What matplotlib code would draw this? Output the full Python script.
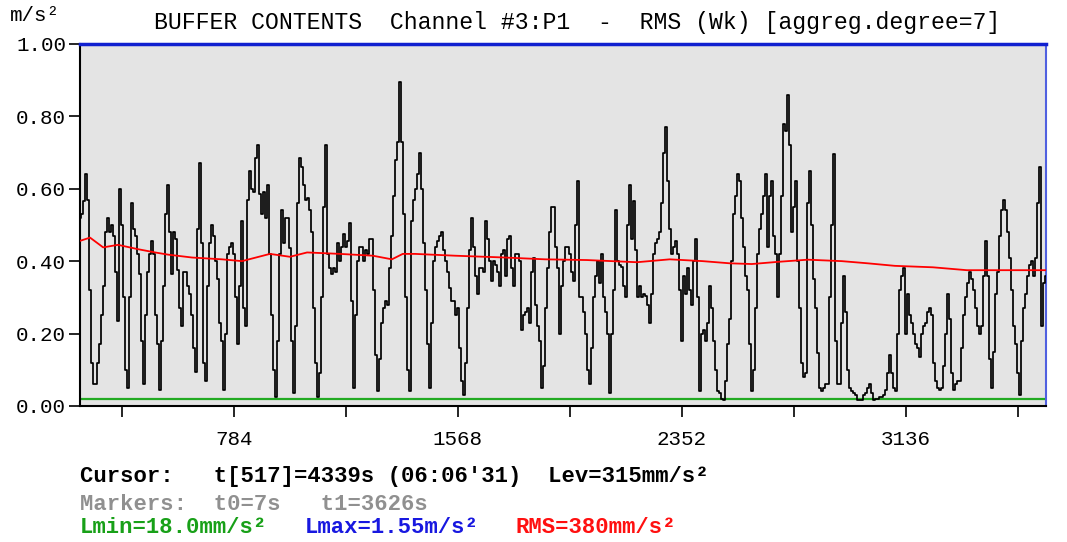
import numpy as np
import matplotlib
matplotlib.use("Agg")
import matplotlib.pyplot as plt
from matplotlib.ticker import FixedLocator, FuncFormatter

# --- Data ---
t_start = 245        # s, first sample shown
t_step = 7           # s per aggregated sample (aggreg.degree=7)
t_end = 3626         # s, right edge of the buffer window

# aggregated RMS level (m/s^2), one value per sample
level = [
    0.52, 0.53, 0.565, 0.64, 0.57, 0.32, 0.12, 0.06, 0.06, 0.12, 0.17,
    0.25, 0.33, 0.48, 0.52, 0.48, 0.50, 0.47, 0.37, 0.235, 0.60, 0.50,
    0.30, 0.10, 0.05, 0.30, 0.56, 0.49, 0.47, 0.42, 0.365, 0.18, 0.06,
    0.25, 0.37, 0.42, 0.455, 0.42, 0.25, 0.17, 0.045, 0.18, 0.33, 0.53,
    0.61, 0.48, 0.365, 0.48, 0.46, 0.375, 0.27, 0.22, 0.37, 0.37, 0.33,
    0.31, 0.25, 0.16, 0.095, 0.49, 0.67, 0.45, 0.12, 0.07, 0.33, 0.45,
    0.50, 0.47, 0.40, 0.35, 0.23, 0.18, 0.045, 0.20, 0.42, 0.44, 0.45,
    0.42, 0.30, 0.17, 0.33, 0.51, 0.27, 0.22, 0.57, 0.65, 0.60, 0.59,
    0.685, 0.72, 0.585, 0.53, 0.59, 0.52, 0.61, 0.42, 0.25, 0.10, 0.025,
    0.18, 0.42, 0.54, 0.45, 0.52, 0.52, 0.435, 0.18, 0.035, 0.22, 0.56,
    0.685, 0.66, 0.61, 0.57, 0.575, 0.54, 0.48, 0.27, 0.12, 0.025, 0.09,
    0.30, 0.55, 0.72, 0.42, 0.38, 0.365, 0.38, 0.37, 0.45, 0.40, 0.44,
    0.475, 0.44, 0.455, 0.505, 0.29, 0.05, 0.25, 0.40, 0.44, 0.44, 0.40,
    0.43, 0.42, 0.46, 0.46, 0.32, 0.14, 0.04, 0.13, 0.23, 0.27, 0.29,
    0.28, 0.38, 0.47, 0.58, 0.68, 0.73, 0.895, 0.73, 0.53, 0.30, 0.10,
    0.04, 0.51, 0.57, 0.60, 0.64, 0.70, 0.60, 0.45, 0.32, 0.17, 0.05,
    0.23, 0.40, 0.44, 0.455, 0.47, 0.48, 0.43, 0.40, 0.37, 0.325, 0.29,
    0.29, 0.25, 0.27, 0.16, 0.07, 0.03, 0.12, 0.27, 0.43, 0.52, 0.44,
    0.36, 0.31, 0.38, 0.38, 0.37, 0.51, 0.46, 0.40, 0.345, 0.40, 0.39,
    0.37, 0.33, 0.42, 0.43, 0.36, 0.46, 0.47, 0.38, 0.33, 0.42, 0.42,
    0.40, 0.21, 0.25, 0.26, 0.27, 0.23, 0.37, 0.41, 0.28, 0.22, 0.18,
    0.05, 0.11, 0.27, 0.38, 0.48, 0.55, 0.55, 0.44, 0.38, 0.20, 0.33,
    0.40, 0.44, 0.44, 0.42, 0.37, 0.345, 0.50, 0.62, 0.30, 0.30, 0.26,
    0.20, 0.10, 0.06, 0.16, 0.30, 0.36, 0.40, 0.34, 0.42, 0.30, 0.26,
    0.20, 0.035, 0.20, 0.32, 0.54, 0.40, 0.39, 0.385, 0.33, 0.30, 0.50,
    0.61, 0.46, 0.565, 0.43, 0.30, 0.33, 0.30, 0.31, 0.305, 0.28, 0.23,
    0.31, 0.42, 0.45, 0.46, 0.48, 0.56, 0.70, 0.77, 0.62, 0.49, 0.42,
    0.44, 0.455, 0.42, 0.32, 0.18, 0.36, 0.31, 0.38, 0.32, 0.28, 0.40,
    0.46, 0.30, 0.04, 0.20, 0.21, 0.18, 0.23, 0.33, 0.27, 0.18, 0.10,
    0.04, 0.035, 0.02, 0.017, 0.07, 0.17, 0.24, 0.40, 0.53, 0.58, 0.64,
    0.62, 0.52, 0.44, 0.36, 0.32, 0.17, 0.04, 0.10, 0.27, 0.42, 0.49,
    0.53, 0.58, 0.64, 0.44, 0.58, 0.62, 0.47, 0.42, 0.30, 0.42, 0.58,
    0.78, 0.76, 0.86, 0.72, 0.48, 0.55, 0.62, 0.40, 0.27, 0.12, 0.08,
    0.09, 0.56, 0.65, 0.50, 0.35, 0.27, 0.145, 0.05, 0.04, 0.05, 0.06,
    0.06, 0.30, 0.50, 0.695, 0.18, 0.06, 0.06, 0.23, 0.36, 0.26, 0.10,
    0.05, 0.04, 0.035, 0.03, 0.017, 0.017, 0.017, 0.03, 0.035, 0.05, 0.06,
    0.035, 0.017, 0.02, 0.02, 0.025, 0.025, 0.03, 0.045, 0.09, 0.14, 0.09,
    0.05, 0.04, 0.20, 0.32, 0.36, 0.38, 0.20, 0.31, 0.25, 0.23, 0.20,
    0.17, 0.16, 0.135, 0.20, 0.22, 0.23, 0.26, 0.27, 0.25, 0.12, 0.07,
    0.05, 0.045, 0.05, 0.11, 0.20, 0.31, 0.24, 0.09, 0.045, 0.06, 0.07,
    0.07, 0.16, 0.25, 0.30, 0.34, 0.37, 0.35, 0.32, 0.27, 0.22, 0.20,
    0.22, 0.36, 0.455, 0.36, 0.13, 0.05, 0.15, 0.31, 0.37, 0.47, 0.54,
    0.57, 0.54, 0.48, 0.41, 0.32, 0.22, 0.17, 0.09, 0.03, 0.18, 0.27,
    0.31, 0.36, 0.39, 0.40, 0.36, 0.41, 0.56, 0.66, 0.22, 0.34, 0.36,
]

# running RMS curve (time in s, value in m/s^2)
rms_t = [245, 280, 326, 378, 448, 508, 553, 637, 742, 812, 910, 980, 1040, 1155, 1270,
         1337, 1375, 1418, 1558, 1733, 1873, 2020, 2195, 2310, 2425, 2520, 2597, 2688,
         2793, 2912, 3003, 3098, 3231, 3350, 3626]
rms_v = [0.456, 0.465, 0.438, 0.445, 0.433, 0.424, 0.418, 0.41, 0.405, 0.40, 0.42, 0.412,
         0.424, 0.42, 0.415, 0.405, 0.42, 0.42, 0.415, 0.41, 0.405, 0.403, 0.397, 0.405,
         0.40, 0.394, 0.392, 0.398, 0.404, 0.40, 0.394, 0.387, 0.383, 0.375, 0.375]

l_min = 0.018
y_ticks = [0.0, 0.2, 0.4, 0.6, 0.8, 1.0]
x_ticks = [392, 784, 1176, 1568, 1960, 2352, 2744, 3136, 3528]

t = t_start + t_step * np.arange(len(level))

# --- Plot ---
plt.rcParams["font.family"] = ["Liberation Mono", "DejaVu Sans"]

fig = plt.figure(figsize=(10.67, 5.42), dpi=100)
ax = fig.add_axes([0.075, 0.251, 0.905, 0.668])
ax.set_facecolor("#e4e4e4")

ax.step(t, level, where="mid", color="black", linewidth=1.25, zorder=3)
ax.plot(rms_t, rms_v, color="#ff0000", linewidth=1.3, zorder=4)
ax.axhline(l_min, color="#22aa22", linewidth=1.6, zorder=2)

ax.set_xlim(t_start, t_end)
ax.set_ylim(0, 1.0)

ax.yaxis.set_major_locator(FixedLocator(y_ticks))
ax.yaxis.set_major_formatter(FuncFormatter(lambda v, p: f"{v:.2f}"))
ax.xaxis.set_major_locator(FixedLocator(x_ticks))
ax.xaxis.set_major_formatter(FuncFormatter(lambda v, p: f"{int(v)}" if int(v) % 784 == 0 else ""))
ax.tick_params(direction="out", length=8, width=1.2, labelsize=15, colors="black")
ax.tick_params(axis="y", pad=2)
ax.tick_params(axis="x", pad=9)

for side in ("left", "bottom"):
    ax.spines[side].set_color("black")
    ax.spines[side].set_linewidth(1.5)
ax.spines["top"].set_color("#1020d0")
ax.spines["top"].set_linewidth(2.5)
ax.spines["right"].set_color("#5060e0")
ax.spines["right"].set_linewidth(1.5)

fig.text(0.009, 0.972, "m/s²", fontsize=15, va="center", ha="left")
fig.text(0.541, 0.959, "BUFFER CONTENTS  Channel #3:P1  -  RMS (Wk) [aggreg.degree=7]",
         fontsize=16.7, va="center", ha="center")

# status lines under the plot
fig.text(0.075, 0.120, "Cursor:   t[517]=4339s (06:06'31)  Lev=315mm/s²",
         fontsize=16, fontweight="bold", va="center", ha="left", color="black")
fig.text(0.075, 0.069, "Markers:  t0=7s   t1=3626s",
         fontsize=16, fontweight="bold", va="center", ha="left", color="#909090")
fig.text(0.075, 0.026, "Lmin=18.0mm/s²", fontsize=16, fontweight="bold",
         va="center", ha="left", color="#18a018")
fig.text(0.286, 0.026, "Lmax=1.55m/s²", fontsize=16, fontweight="bold",
         va="center", ha="left", color="#1818e0")
fig.text(0.483, 0.026, "RMS=380mm/s²", fontsize=16, fontweight="bold",
         va="center", ha="left", color="#ff1010")

fig.savefig("out.png", dpi=100, facecolor="white")
